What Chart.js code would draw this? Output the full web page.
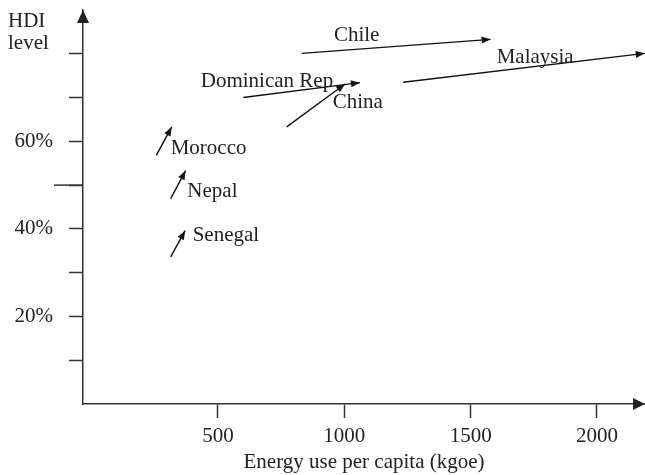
<!DOCTYPE html>
<html lang="en">
<head>
    <meta charset="UTF-8">
    <title>HDI vs energy use</title>
    <script src="https://cdn.jsdelivr.net/npm/chart.js"></script>
    <style>
        body { margin: 0; background: #fff; }
        #wrap { width: 645px; height: 475px; position: relative; }
    </style>
</head>
<body>
    <div id="wrap"><canvas id="hdiChart"></canvas></div>
    <script>
        // Countries and the start / end of each arrow (energy kgoe, HDI %)
        const countries   = ['Morocco', 'Nepal', 'Senegal', 'Dominican Rep', 'China', 'Chile', 'Malaysia'];
        const energyStart = [256, 313, 313, 600, 772, 831, 1233];
        const energyEnd   = [317, 372, 370, 1062, 1003, 1579, 2189];
        const hdiStart    = [56.8, 46.9, 33.6, 70.0, 63.3, 80.1, 73.5];
        const hdiEnd      = [63.3, 53.3, 39.6, 73.4, 73.1, 83.3, 80.1];

        // where each country's name sits (same units)
        const labelEnergy = [313, 379, 400, 432, 954, 959, 1603];
        const labelHdi    = [58.4, 48.5, 38.4, 73.7, 68.8, 84.1, 79.2];

        // axes
        const xTicks = [500, 1000, 1500, 2000];
        const yTicks = [10, 20, 30, 40, 50, 60, 70, 80];
        const yTickLabels = ['', '20%', '', '40%', '', '60%', '', ''];

        const FONT = "'Liberation Serif', 'Times New Roman', serif";
        const INK = '#222';

        function arrowHead(ctx, x, y, ang, len, half) {
            ctx.save();
            ctx.translate(x, y);
            ctx.rotate(ang);
            ctx.beginPath();
            ctx.moveTo(0, 0);
            ctx.lineTo(-len, -half);
            ctx.lineTo(-len, half);
            ctx.closePath();
            ctx.fill();
            ctx.restore();
        }

        // no extra room around the axes, the layout is set by hand
        function noPad(s) {
            s.paddingTop = 0;
            s.paddingBottom = 0;
            s.paddingLeft = 0;
            s.paddingRight = 0;
        }

        const extras = {
            id: 'extras',
            afterDatasetsDraw(chart) {
                const ctx = chart.ctx;
                ctx.save();
                ctx.fillStyle = '#111';
                chart.data.datasets.forEach((ds, i) => {
                    const pts = chart.getDatasetMeta(i).data;
                    const a = pts[0], b = pts[1];
                    arrowHead(ctx, b.x, b.y, Math.atan2(b.y - a.y, b.x - a.x), 9, 3.5);
                });
                // country names
                const xs = chart.scales.x, ys = chart.scales.y;
                ctx.fillStyle = INK;
                ctx.font = '21px ' + FONT;
                ctx.textAlign = 'left';
                ctx.textBaseline = 'middle';
                countries.forEach((c, i) => {
                    ctx.fillText(c, xs.getPixelForValue(labelEnergy[i]), ys.getPixelForValue(labelHdi[i]));
                });
                ctx.restore();
            },
            afterDraw(chart) {
                const ctx = chart.ctx;
                const { left, right, top, bottom } = chart.chartArea;
                ctx.save();
                ctx.fillStyle = '#222';
                arrowHead(ctx, left, top, -Math.PI / 2, 13, 6);
                arrowHead(ctx, right, bottom, 0, 12, 6);
                // longer tick at 50%
                const y50 = chart.scales.y.getPixelForValue(50);
                ctx.strokeStyle = '#333';
                ctx.lineWidth = 1.5;
                ctx.beginPath();
                ctx.moveTo(left - 29, y50);
                ctx.lineTo(left, y50);
                ctx.stroke();
                // axis name
                ctx.fillStyle = INK;
                ctx.font = '21px ' + FONT;
                ctx.textAlign = 'left';
                ctx.textBaseline = 'middle';
                ctx.fillText('HDI', 8, 21);
                ctx.fillText('level', 8, 43);
                ctx.restore();
            }
        };

        const datasets = countries.map((c, i) => ({
            label: c,
            data: [
                { x: energyStart[i], y: hdiStart[i] },
                { x: energyEnd[i], y: hdiEnd[i] }
            ],
            showLine: true,
            borderColor: '#111',
            borderWidth: 1.4,
            pointRadius: 0,
            clip: false
        }));

        new Chart(document.getElementById('hdiChart'), {
            type: 'scatter',
            data: { datasets: datasets },
            options: {
                responsive: true,
                maintainAspectRatio: false,
                animation: false,
                layout: { padding: { top: 10, right: 0, left: 0, bottom: 0 } },
                plugins: { legend: { display: false }, tooltip: { enabled: false } },
                scales: {
                    x: {
                        type: 'linear',
                        min: -34,
                        max: 2190,
                        afterBuildTicks: s => { s.ticks = xTicks.map(v => ({ value: v })); },
                        afterFit: s => { s.height = 71; noPad(s); },
                        border: { display: true, color: '#333', width: 1.5 },
                        grid: { drawOnChartArea: false, drawTicks: true, tickLength: 14, tickColor: '#333', tickWidth: 1.5 },
                        ticks: {
                            padding: 6,
                            color: INK,
                            font: { family: FONT, size: 21 },
                            callback: v => String(v)
                        },
                        title: {
                            display: true,
                            text: 'Energy use per capita (kgoe)',
                            color: INK,
                            font: { family: FONT, size: 21 },
                            padding: { top: 0, bottom: 0 }
                        }
                    },
                    y: {
                        min: 0,
                        max: 90,
                        afterBuildTicks: s => { s.ticks = yTicks.map(v => ({ value: v })); },
                        afterFit: s => { s.width = 83; noPad(s); },
                        border: { display: true, color: '#333', width: 1.5 },
                        grid: { drawOnChartArea: false, drawTicks: true, tickLength: 14, tickColor: '#333', tickWidth: 1.5 },
                        ticks: {
                            padding: 16,
                            color: INK,
                            font: { family: FONT, size: 21 },
                            callback: (v, i) => yTickLabels[i]
                        }
                    }
                }
            },
            plugins: [extras]
        });
    </script>
</body>
</html>
